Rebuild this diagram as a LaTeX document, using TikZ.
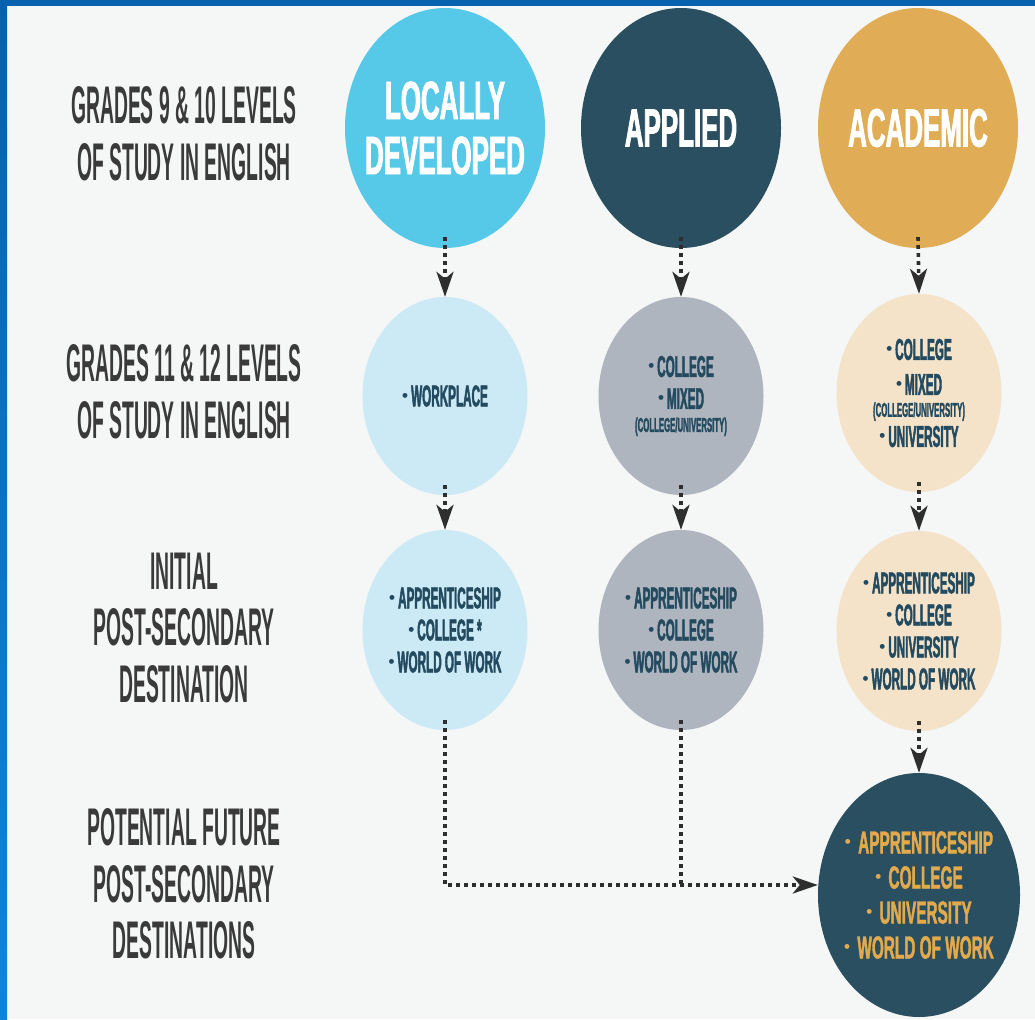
\documentclass[tikz,border=0pt]{standalone}
\usepackage{fontspec}
\setmainfont{Liberation Sans}
\newfontfamily\handfont[FakeStretch=0.365]{Liberation Sans Bold}
\newfontfamily\titlefont[FakeStretch=0.48,FakeBold=1.5]{Liberation Sans Bold}
\newfontfamily\innerfont[FakeStretch=0.39,FakeBold=1.5]{Liberation Sans Bold}
\newfontfamily\futfont[FakeStretch=0.48,FakeBold=1.2]{Liberation Sans Bold}
\newfontfamily\bulfont{Liberation Sans Bold}
\usetikzlibrary{shapes.geometric,arrows.meta}
\newcommand\bul[1][5pt]{\raisebox{#1}{\bulfont\fontsize{17}{17}\selectfont •}\hspace{3pt}}
\definecolor{ldA}{HTML}{56C8E8}
\definecolor{apA}{HTML}{2A4F61}
\definecolor{acA}{HTML}{E1AC56}
\definecolor{ldB}{HTML}{CBEAF5}
\definecolor{apB}{HTML}{AEB5BF}
\definecolor{acB}{HTML}{F4E3C9}
\definecolor{txt}{HTML}{234A5F}
\definecolor{gold}{HTML}{E2AA4C}
\definecolor{bg}{HTML}{F5F6F6}
\definecolor{lbl}{HTML}{3A3A3A}
\definecolor{frameA}{HTML}{0662AE}
\definecolor{frameB}{HTML}{0B86E0}
\begin{document}
\begin{tikzpicture}[x=1pt,y=-1pt,
  circ/.style={ellipse, inner sep=-80pt, align=center},
  topc/.style={circ, minimum width=200pt, minimum height=240pt,
    text=white, font={\titlefont\fontsize{54}{55}\selectfont}},
  midc/.style={circ, minimum width=165pt, minimum height=198pt,
    text=txt, font={\innerfont\fontsize{30}{32}\selectfont}},
  lowc/.style={circ, minimum width=165pt, minimum height=200pt,
    text=txt, font={\innerfont\fontsize{30}{32}\selectfont}},
  futc/.style={circ, minimum width=202pt, minimum height=244pt,
    fill=apA, text=gold, font={\futfont\fontsize{32}{35}\selectfont}},
  rowlabel/.style={align=center, text=lbl, inner sep=0pt,
    font={\handfont\fontsize{53}{56.5}\selectfont}},
  flow/.style={draw=black!82, line width=3.6pt, dash pattern=on 3.6pt off 4.4pt,
    -{Stealth[length=25pt,width=17pt,inset=7pt]}},
  link/.style={draw=black!82, line width=3.6pt, dash pattern=on 3.6pt off 4.4pt}]
\useasboundingbox (0,0) rectangle (1035,1019);
% background and frame
\fill[bg] (0,0) rectangle (1035,1019);
\shade[top color=frameA, bottom color=frameB] (0,0) rectangle (7,1019);
\fill[frameA] (0,0) rectangle (1035,6);
% row labels
\node[rowlabel] (l1) at (184,134) {GRADES 9 \& 10 LEVELS\\OF STUDY IN ENGLISH};
\node[rowlabel] (l2) at (184,392) {GRADES 11 \& 12 LEVELS\\OF STUDY IN ENGLISH};
\node[rowlabel] (l3) at (184,628) {INITIAL\\POST-SECONDARY\\DESTINATION};
\node[rowlabel] (l4) at (184,884) {POTENTIAL FUTURE\\POST-SECONDARY\\DESTINATIONS};
% top row
\node[topc, fill=ldA] (ld1) at (445,128) {LOCALLY\\DEVELOPED};
\node[topc, fill=apA] (ap1) at (681,128) {APPLIED};
\node[topc, fill=acA] (ac1) at (918,128) {ACADEMIC};
% second row
\node[midc, fill=ldB] (ld2) at (445,396) {\bul WORKPLACE};
\node[midc, fill=apB] (ap2) at (681,396) {\bul COLLEGE\\\bul MIXED\\[-9pt]{\fontsize{20}{21}\selectfont (COLLEGE/UNIVERSITY)}};
\node[midc, fill=acB] (ac2) at (919,393) {\bul COLLEGE\\[3pt]\bul MIXED\\[-10pt]{\fontsize{20}{21}\selectfont (COLLEGE/UNIVERSITY)}\\[-2pt]\bul UNIVERSITY};
% third row
\node[lowc, fill=ldB] (ld3) at (445,630) {\bul APPRENTICESHIP\\\bul COLLEGE *\\\bul WORLD OF WORK};
\node[lowc, fill=apB] (ap3) at (681,630) {\bul APPRENTICESHIP\\\bul COLLEGE\\\bul WORLD OF WORK};
\node[lowc, fill=acB] (ac3) at (919,631) {\bul APPRENTICESHIP\\\bul COLLEGE\\\bul UNIVERSITY\\\bul WORLD OF WORK};
% future row
\node[futc] (fut) at (919,895) {\bul[6pt] APPRENTICESHIP\\\bul[6pt] COLLEGE\\\bul[6pt] UNIVERSITY\\\bul[6pt] WORLD OF WORK};
% connectors
\draw[flow] ([yshift=11pt]ld1.south) -- (ld2.north);
\draw[flow] ([yshift=11pt]ap1.south) -- (ap2.north);
\draw[flow] ([yshift=11pt]ac1.south) -- (ac2.north);
\draw[flow] ([yshift=10pt]ld2.south) -- (ld3.north);
\draw[flow] ([yshift=10pt]ap2.south) -- (ap3.north);
\draw[flow] ([yshift=10pt]ac2.south) -- (ac3.north);
\draw[flow] ([yshift=10pt]ac3.south) -- (fut.north);
\coordinate (fw) at ([yshift=10pt]fut.west);
\draw[flow] ([yshift=10pt]ld3.south) |- (fw);
\draw[link] ([yshift=10pt]ap3.south) -- (ap3.south |- fw);
\end{tikzpicture}
\end{document}
